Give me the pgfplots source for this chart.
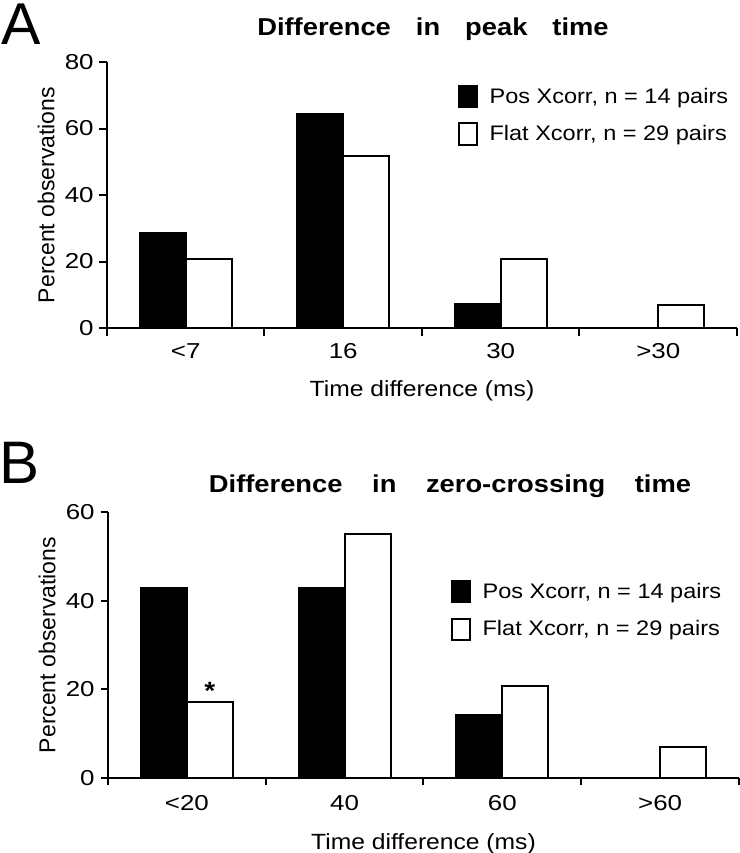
\documentclass[border=0pt]{standalone}
\usepackage{fontspec}
\setmainfont{Liberation Sans}[FakeStretch=1.12]
\newfontfamily\plainsans{Liberation Sans}
\newfontfamily\tickfont{Liberation Sans}[FakeStretch=1.2]
\usepackage{pgfplots}
\pgfplotsset{compat=1.18}

\pgfplotsset{
 panel/.style={
  scale only axis, width=315pt, height=133pt,
  axis lines=left, axis line style={-, line width=1pt, black},
  xmin=0, xmax=4, ymin=0,
  xtick={0.5,1.5,2.5,3.5},
  minor xtick={0,1,2,3,4},
  tick align=outside,
  major tick length=3.75pt, minor tick length=3.75pt,
  every tick/.style={black, line width=1pt},
  major x tick style={draw=none},
  tick label style={font=\tickfont\fontsize{10.8}{12}\selectfont},
  /pgf/number format/assume math mode=true,
  yticklabel style={anchor=east, inner sep=0pt, xshift=-2.75pt},
  xticklabel style={anchor=north, inner sep=0pt},
  ylabel style={at={(axis description cs:-0.0825,0.5)}, anchor=south, inner sep=0pt, font=\plainsans\fontsize{11.5}{13}\selectfont},
  xlabel style={at={(axis description cs:0.5,0)}, anchor=north, inner sep=0pt, font=\fontsize{11}{13}\selectfont},
  legend cell align=left,
  legend style={draw=none, fill=none, inner sep=0pt, outer sep=0pt, anchor=north west,
    row sep=6.55pt, font=\fontsize{10.5}{12}\selectfont,
    nodes={inner sep=0pt, text height=9.15pt, text depth=3pt, anchor=base west}},
 },
 mybar/.style={ybar, bar width=23pt, line width=1pt, draw=black,
  legend image code/.code={\draw[##1, line width=1pt] (0.5pt,-2pt) rectangle (9.5pt,8.65pt); \path[draw=none, fill=none] (10pt,0pt) -- (15.8pt,0pt);}},
}

\begin{document}
\begin{tikzpicture}
\begin{axis}[panel, at={(53.5pt,-164pt)}, anchor=south west,
  ymax=80, ytick={0,20,40,60,80},
  xticklabels={{<7},{16},{30},{>30}},
  xticklabel style={yshift=-3.75pt},
  xlabel={Time difference (ms)}, xlabel style={yshift=-26pt},
  ylabel={Percent observations},
  legend style={at={(rel axis cs:0.5571,0.9135)}}]
\addplot[mybar, bar shift=-11.5pt, fill=black] coordinates {(0.5,28.6) (1.5,64.3) (2.5,7.1) (3.5,0)};
\addlegendentry{Pos Xcorr, n = 14 pairs}
\addplot[mybar, bar shift=11.5pt, fill=white] coordinates {(0.5,20.7) (1.5,51.7) (2.5,20.7) (3.5,6.9)};
\addlegendentry{Flat Xcorr, n = 29 pairs}
\end{axis}

\begin{axis}[panel, at={(54pt,-388.9pt)}, anchor=south west,
  width=315.5pt, height=132.75pt,
  ymax=60, ytick={0,20,40,60},
  xticklabels={{<20},{40},{60},{>60}},
  xticklabel style={yshift=-4.75pt},
  xlabel={Time difference (ms)}, xlabel style={yshift=-27.7pt},
  ylabel={Percent observations},
  legend style={at={(rel axis cs:0.5436,0.7446)}}]
\addplot[mybar, bar shift=-11.5pt, fill=black] coordinates {(0.5,42.9) (1.5,42.9) (2.5,14.3) (3.5,0)};
\addlegendentry{Pos Xcorr, n = 14 pairs}
\addplot[mybar, bar shift=11.5pt, fill=white] coordinates {(0.5,17.2) (1.5,55.2) (2.5,20.7) (3.5,6.9)};
\addlegendentry{Flat Xcorr, n = 29 pairs}
\node[anchor=base, inner sep=0pt, yshift=1pt, font=\bfseries\fontsize{12.5}{13}\selectfont] at (axis cs:0.646,17.2) {*};
\end{axis}

\node[anchor=base, inner sep=0pt, font=\bfseries\fontsize{12.2}{14}\selectfont] at (216.5pt,-17.9pt)
  {Difference\hspace{12.5pt}in\hspace{12.5pt}peak\hspace{12.5pt}time};
\node[anchor=base, inner sep=0pt, font=\bfseries\fontsize{12.2}{14}\selectfont] at (225pt,-246.3pt)
  {Difference\hspace{14.8pt}in\hspace{14.8pt}zero-crossing\hspace{14.8pt}time};
\node[anchor=base west, inner sep=0pt, font=\plainsans\fontsize{29.5}{32}\selectfont] at (0.6pt,-22.1pt) {A};
\node[anchor=base west, inner sep=0pt, font=\plainsans\fontsize{30}{32}\selectfont] at (-0.5pt,-241.5pt) {B};

\pgfresetboundingbox
\path[use as bounding box] (0pt,0pt) rectangle (370pt,-426.5pt);
\end{tikzpicture}
\end{document}
